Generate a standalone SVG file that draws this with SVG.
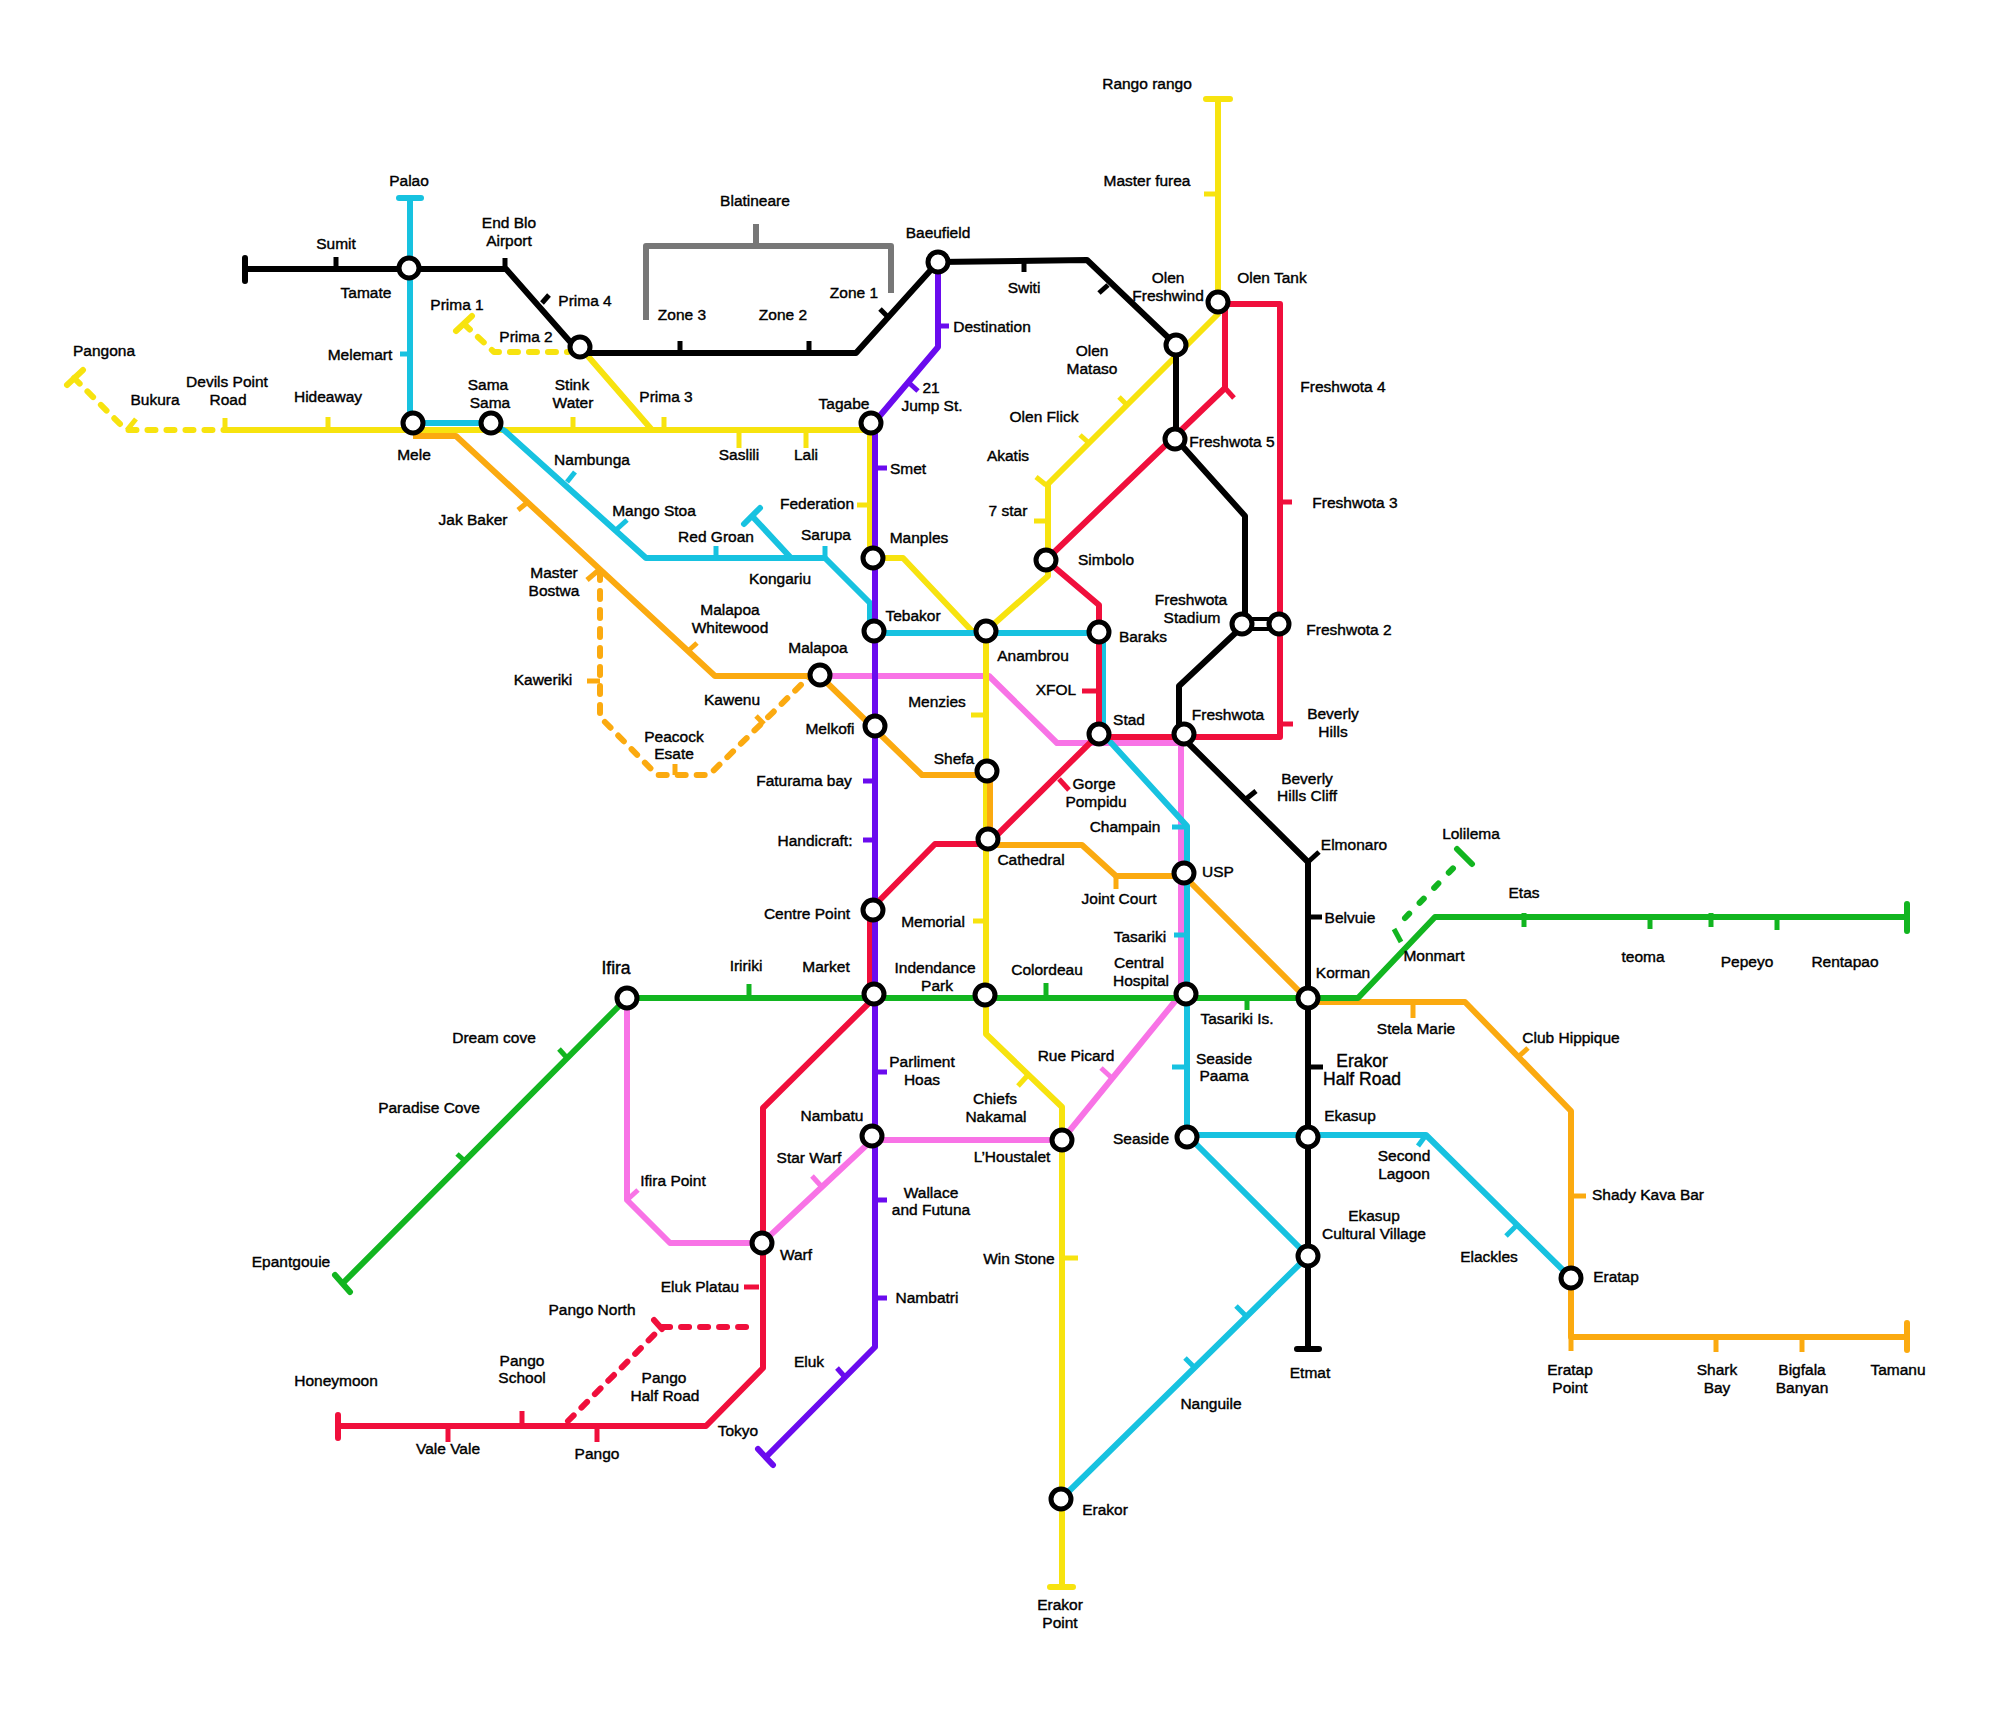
<svg xmlns="http://www.w3.org/2000/svg" width="2008" height="1734" viewBox="0 0 2008 1734">
<style>
text{font-family:"Liberation Sans",Arial,sans-serif;font-size:15.5px;fill:#000;stroke:#000;stroke-width:.4;text-anchor:middle}
.b2{font-size:17.5px}
path{fill:none;stroke-linejoin:round}
.l{stroke-width:6}
.d{stroke-width:6;stroke-dasharray:8 11;stroke-linecap:round}
.dg{stroke-dasharray:6 15}
.t{stroke-width:5}
.e{stroke-width:6;stroke-linecap:round}
.y{stroke:#f7e30f}.c{stroke:#17c2e0}.p{stroke:#6a0bee}.r{stroke:#f00f3c}.g{stroke:#12b520}.o{stroke:#fbaa10}.m{stroke:#f873e6}.k{stroke:#000}.s{stroke:#777}
circle{fill:#fff;stroke:#000;stroke-width:5;r:10px}
</style>
<g id="connectors">
<path class="l s" d="M646 320V246H891V293M756 224V246"/>
<path class="l m" d="M820 676H989L1057 743H1181V994L1062 1140H872L762 1243H670L627 1200V998"/>
<path class="l y" d="M225 430H870V558M580 347L652 430M870 558H903L972 631H986L1048 576V484L1219 313M1218 302V99M986 631V995V1034L1062 1107V1587"/>
<path class="d y" d="M74 378L126 430H225M464 324L494 352H568"/>
<path class="l o" d="M413 436H456L715 676H820L922 775H990V845M990 845H1082L1116 876H1184L1308 1000V1002H1465L1571 1111V1337H1907"/>
<path class="d o" d="M600 572V717L657 775H709L809 677"/>
<path class="l c" d="M410 198V423H491L505 431L646 558H825L870 603V633H1103V734L1187 826V1135H1426L1571 1278M1187 1135L1308 1256L1061 1499M752 516L791 558"/>
<path class="l r" d="M338 1426H706L763 1368V1108L870 1002V910L935 844H988L1099 734V605L1046 560L1225 388V304H1280V737H1099"/>
<path class="d r" d="M568 1421L662 1327H754"/>
<path class="l g" d="M343 1283L627 998H1358L1435 917H1907"/>
<path class="d dg g" d="M1405 918L1463 858"/>
<path class="l p" d="M938 262V347L878 418L875 424V1347L766 1457"/>
<path class="l k" d="M245 269H506L580 353H856L938 262L1087 260L1176 345V439L1245 516V624L1179 686V734L1308 862V1349"/>
<path class="k" stroke-width="4" d="M1242 619H1279M1242 629H1279"/>
</g>
<g id="ends">
<path class="e k" d="M245 258V281M1297 1349H1319"/>
<path class="e c" d="M399 198H421"/>
<path class="e y" d="M1206 99H1230M1050 1587H1073M67 385L83 370M456 331L472 316"/>
<path class="e o" d="M1907 1323V1350"/>
<path class="e g" d="M1907 904V931M335 1275L350 1292M1457 849L1472 864"/>
<path class="g" stroke-width="5" d="M1394 929L1401 942"/>
<path class="e p" d="M758 1449L773 1465"/>
<path class="e r" d="M338 1415V1438M654 1320L662 1329"/>
<path class="e c" d="M744 524L760 508"/>
</g>
<g id="n-palao"><text x="409" y="186">Palao</text></g>
<g id="n-sumit"><path class="t k" d="M336 269V257"/><text x="336" y="249">Sumit</text></g>
<g id="n-endblo"><path class="t k" d="M505 269V258"/><text x="509" y="228">End Blo<tspan x="509" y="246">Airport</tspan></text></g>
<g id="n-tamate"><circle cx="409" cy="268"/><text x="366" y="298">Tamate</text></g>
<g id="n-prima1"><text x="457" y="310">Prima 1</text></g>
<g id="n-prima4"><path class="t k" d="M542 303L549 295"/><text x="585" y="306">Prima 4</text></g>
<g id="n-prima2"><circle cx="580" cy="347"/><text x="526" y="342">Prima 2</text></g>
<g id="n-blatineare"><text x="755" y="206">Blatineare</text></g>
<g id="n-zone3"><path class="t k" d="M680 353V341"/><text x="682" y="320">Zone 3</text></g>
<g id="n-zone2"><path class="t k" d="M809 353V341"/><text x="783" y="320">Zone 2</text></g>
<g id="n-zone1"><path class="t k" d="M880 309L888 317"/><text x="854" y="298">Zone 1</text></g>
<g id="n-baeufield"><circle cx="938" cy="262"/><text x="938" y="238">Baeufield</text></g>
<g id="n-destination"><path class="t p" d="M938 326H949"/><text x="992" y="332">Destination</text></g>
<g id="n-switi"><path class="t k" d="M1024 258V272"/><text x="1024" y="293">Switi</text></g>
<g id="n-olenmid"><path class="t k" d="M1099 293L1108 285"/></g>
<g id="n-rango"><text x="1147" y="89">Rango rango</text></g>
<g id="n-masterfurea"><path class="t y" d="M1204 194H1218"/><text x="1147" y="186">Master furea</text></g>
<g id="n-olentank"><circle cx="1218" cy="302"/><text x="1272" y="283">Olen Tank</text></g>
<g id="n-olenfresh"><circle cx="1176" cy="345"/><text x="1168" y="283">Olen<tspan x="1168" y="301">Freshwind</tspan></text></g>
<g id="n-olenmataso"><path class="t y" d="M1119 397L1128 406"/><text x="1092" y="356">Olen<tspan x="1092" y="374">Mataso</tspan></text></g>
<g id="n-olenflick"><path class="t y" d="M1080 435L1089 443"/><text x="1044" y="422">Olen Flick</text></g>
<g id="n-akatis"><path class="t y" d="M1036 477L1046 485"/><text x="1008" y="461">Akatis</text></g>
<g id="n-7star"><path class="t y" d="M1034 521H1046"/><text x="1008" y="516">7 star</text></g>
<g id="n-freshwota4"><path class="t r" d="M1225 388L1234 398"/><text x="1343" y="392">Freshwota 4</text></g>
<g id="n-freshwota5"><circle cx="1175" cy="439"/><text x="1232" y="447">Freshwota 5</text></g>
<g id="n-freshwota3"><path class="t r" d="M1280 502H1292"/><text x="1355" y="508">Freshwota 3</text></g>
<g id="n-simbolo"><circle cx="1046" cy="560"/><text x="1106" y="565">Simbolo</text></g>
<g id="n-fstadium"><circle cx="1242" cy="624"/><text x="1191" y="605">Freshwota<tspan x="1192" y="623">Stadium</tspan></text></g>
<g id="n-freshwota2"><circle cx="1279" cy="624"/><text x="1349" y="635">Freshwota 2</text></g>
<g id="n-baraks"><circle cx="1099" cy="632"/><text x="1143" y="642">Baraks</text></g>
<g id="n-anambrou"><circle cx="986" cy="631"/><text x="1033" y="661">Anambrou</text></g>
<g id="n-xfol"><path class="t r" d="M1082 691H1097"/><text x="1056" y="695">XFOL</text></g>
<g id="n-menzies"><path class="t y" d="M971 715H984"/><text x="937" y="707">Menzies</text></g>
<g id="n-stad"><circle cx="1099" cy="734"/><text x="1129" y="725">Stad</text></g>
<g id="n-freshwota"><circle cx="1184" cy="734"/><text x="1228" y="720">Freshwota</text></g>
<g id="n-beverly"><path class="t r" d="M1280 724H1293"/><text x="1333" y="719">Beverly<tspan x="1333" y="737">Hills</tspan></text></g>
<g id="n-shefa"><circle cx="987" cy="771"/><text x="954" y="764">Shefa</text></g>
<g id="n-gorge"><path class="t r" d="M1059 779L1069 790"/><text x="1094" y="789">Gorge<tspan x="1096" y="807">Pompidu</tspan></text></g>
<g id="n-bevcliff"><path class="t k" d="M1246 799L1256 791"/><text x="1307" y="784">Beverly<tspan x="1307" y="801">Hills Cliff</tspan></text></g>
<g id="n-champain"><path class="t c" d="M1172 827H1187"/><text x="1125" y="832">Champain</text></g>
<g id="n-elmonaro"><path class="t k" d="M1308 862L1319 852"/><text x="1354" y="850">Elmonaro</text></g>
<g id="n-lolilema"><text x="1471" y="839">Lolilema</text></g>
<g id="n-cathedral"><circle cx="988" cy="839"/><text x="1031" y="865">Cathedral</text></g>
<g id="n-usp"><circle cx="1184" cy="873"/><text x="1218" y="877">USP</text></g>
<g id="n-jointcourt"><path class="t o" d="M1116 876V889"/><text x="1119" y="904">Joint Court</text></g>
<g id="n-etas"><path class="t g" d="M1524 913V927"/><text x="1524" y="898">Etas</text></g>
<g id="n-teoma"><path class="t g" d="M1650 917V929"/><text x="1643" y="962">teoma</text></g>
<g id="n-pepeyo"><path class="t g" d="M1711 913V927"/><text x="1747" y="967">Pepeyo</text></g>
<g id="n-rentapao"><path class="t g" d="M1777 917V930"/><text x="1845" y="967">Rentapao</text></g>
<g id="n-belvuie"><path class="t k" d="M1308 917H1322"/><text x="1350" y="923">Belvuie</text></g>
<g id="n-memorial"><path class="t y" d="M973 921H984"/><text x="933" y="927">Memorial</text></g>
<g id="n-tasariki"><path class="t c" d="M1174 935H1187"/><text x="1140" y="942">Tasariki</text></g>
<g id="n-monmart"><text x="1434" y="961">Monmart</text></g>
<g id="n-indpark"><circle cx="985" cy="995"/><text x="935" y="973">Indendance<tspan x="937" y="991">Park</tspan></text></g>
<g id="n-colordeau"><path class="t g" d="M1046 983V997"/><text x="1047" y="975">Colordeau</text></g>
<g id="n-central"><circle cx="1186" cy="994"/><text x="1139" y="968">Central<tspan x="1141" y="986">Hospital</tspan></text></g>
<g id="n-korman"><circle cx="1308" cy="998"/><text x="1343" y="978">Korman</text></g>
<g id="n-tasarikiis"><path class="t g" d="M1247 997V1010"/><text x="1237" y="1024">Tasariki Is.</text></g>
<g id="n-stela"><path class="t o" d="M1413 1003V1018"/><text x="1416" y="1034">Stela Marie</text></g>
<g id="n-club"><path class="t o" d="M1518 1057L1528 1048"/><text x="1571" y="1043">Club Hippique</text></g>
<g id="n-rue"><path class="t m" d="M1101 1068L1113 1079"/><text x="1076" y="1061">Rue Picard</text></g>
<g id="n-seapaama"><path class="t c" d="M1172 1067H1187"/><text x="1224" y="1064">Seaside<tspan x="1224" y="1081">Paama</tspan></text></g>
<g id="n-parliment"><path class="t p" d="M875 1072H887"/><text x="922" y="1067">Parliment<tspan x="922" y="1085">Hoas</tspan></text></g>
<g id="n-erakorhalf"><path class="t k" d="M1308 1067H1323"/><text class="b2" x="1362" y="1067">Erakor<tspan x="1362" y="1085">Half Road</tspan></text></g>
<g id="n-chiefs"><path class="t y" d="M1018 1086L1028 1075"/><text x="995" y="1104">Chiefs<tspan x="996" y="1122">Nakamal</tspan></text></g>
<g id="n-nambatu"><circle cx="872" cy="1136"/><text x="832" y="1121">Nambatu</text></g>
<g id="n-seaside"><circle cx="1187" cy="1137"/><text x="1141" y="1144">Seaside</text></g>
<g id="n-ekasup"><circle cx="1308" cy="1137"/><text x="1350" y="1121">Ekasup</text></g>
<g id="n-second"><path class="t c" d="M1418 1146L1426 1135"/><text x="1404" y="1161">Second<tspan x="1404" y="1179">Lagoon</tspan></text></g>
<g id="n-houstalet"><circle cx="1062" cy="1140"/><text x="1012" y="1162">L’Houstalet</text></g>
<g id="n-starwarf"><path class="t m" d="M812 1176L821 1186"/><text x="809" y="1163">Star Warf</text></g>
<g id="n-ifirapt"><path class="t m" d="M627 1200L638 1190"/><text x="673" y="1186">Ifira Point</text></g>
<g id="n-wallace"><path class="t p" d="M875 1200H887"/><text x="931" y="1198">Wallace<tspan x="931" y="1215">and Futuna</tspan></text></g>
<g id="n-shady"><path class="t o" d="M1571 1196H1586"/><text x="1648" y="1200">Shady Kava Bar</text></g>
<g id="n-ekasupcv"><circle cx="1308" cy="1256"/><text x="1374" y="1221">Ekasup<tspan x="1374" y="1239">Cultural Village</tspan></text></g>
<g id="n-winstone"><path class="t y" d="M1062 1258H1078"/><text x="1019" y="1264">Win Stone</text></g>
<g id="n-warf"><circle cx="762" cy="1243"/><text x="796" y="1260">Warf</text></g>
<g id="n-elackles"><path class="t c" d="M1506 1236L1516 1226"/><text x="1489" y="1262">Elackles</text></g>
<g id="n-eratap"><circle cx="1571" cy="1278"/><text x="1616" y="1282">Eratap</text></g>
<g id="n-epant"><text x="291" y="1267">Epantgouie</text></g>
<g id="n-elukplatau"><path class="t r" d="M744 1287H759"/><text x="700" y="1292">Eluk Platau</text></g>
<g id="n-nambatri"><path class="t p" d="M875 1298H887"/><text x="927" y="1303">Nambatri</text></g>
<g id="n-pangonorth"><text x="592" y="1315">Pango North</text></g>
<g id="n-eluk"><path class="t p" d="M837 1368L844 1376"/><text x="809" y="1367">Eluk</text></g>
<g id="n-pangoschool"><path class="t r" d="M522 1411V1426"/><text x="522" y="1366">Pango<tspan x="522" y="1383">School</tspan></text></g>
<g id="n-honeymoon"><text x="336" y="1386">Honeymoon</text></g>
<g id="n-pangohalf"><text x="664" y="1383">Pango<tspan x="665" y="1401">Half Road</tspan></text></g>
<g id="n-tokyo"><text x="738" y="1436">Tokyo</text></g>
<g id="n-valevale"><path class="t r" d="M448 1426V1442"/><text x="448" y="1454">Vale Vale</text></g>
<g id="n-pango"><path class="t r" d="M597 1426V1442"/><text x="597" y="1459">Pango</text></g>
<g id="n-etmat"><text x="1310" y="1378">Etmat</text></g>
<g id="n-eratappt"><path class="t o" d="M1571 1337V1351"/><text x="1570" y="1375">Eratap<tspan x="1570" y="1393">Point</tspan></text></g>
<g id="n-shark"><path class="t o" d="M1716 1337V1352"/><text x="1717" y="1375">Shark<tspan x="1717" y="1393">Bay</tspan></text></g>
<g id="n-bigfala"><path class="t o" d="M1802 1337V1352"/><text x="1802" y="1375">Bigfala<tspan x="1802" y="1393">Banyan</tspan></text></g>
<g id="n-tamanu"><text x="1898" y="1375">Tamanu</text></g>
<g id="n-nanguile"><path class="t c" d="M1236 1306L1245 1315M1185 1358L1194 1367"/><text x="1211" y="1409">Nanguile</text></g>
<g id="n-erakor"><circle cx="1061" cy="1499"/><text x="1105" y="1515">Erakor</text></g>
<g id="n-erakorpt"><text x="1060" y="1610">Erakor<tspan x="1060" y="1628">Point</tspan></text></g>
<g id="n-ifira"><circle cx="627" cy="998"/><text class="b2" x="616" y="974">Ifira</text></g>
<g id="n-iririki"><path class="t g" d="M749 984V997"/><text x="746" y="971">Iririki</text></g>
<g id="n-market"><circle cx="874" cy="994"/><text x="826" y="972">Market</text></g>
<g id="n-dream"><path class="t g" d="M559 1049L568 1059"/><text x="494" y="1043">Dream cove</text></g>
<g id="n-paradise"><path class="t g" d="M457 1154L466 1162"/><text x="429" y="1113">Paradise Cove</text></g>
<g id="n-melemart"><path class="t c" d="M400 354H410"/><text x="360" y="360">Melemart</text></g>
<g id="n-pangona"><text x="104" y="356">Pangona</text></g>
<g id="n-devils"><path class="t y" d="M225 430V418"/><text x="227" y="387">Devils Point<tspan x="228" y="405">Road</tspan></text></g>
<g id="n-sama"><circle cx="491" cy="423"/><text x="488" y="390">Sama<tspan x="490" y="408">Sama</tspan></text></g>
<g id="n-stink"><path class="t y" d="M573 430V417"/><text x="572" y="390">Stink<tspan x="573" y="408">Water</tspan></text></g>
<g id="n-bukura"><path class="t y" d="M127 430L136 419"/><text x="155" y="405">Bukura</text></g>
<g id="n-hideaway"><path class="t y" d="M328 430V417"/><text x="328" y="402">Hideaway</text></g>
<g id="n-prima3"><path class="t y" d="M664 430V417"/><text x="666" y="402">Prima 3</text></g>
<g id="n-tagabe"><circle cx="871" cy="423"/><text x="844" y="409">Tagabe</text></g>
<g id="n-21jump"><path class="t p" d="M908 382L918 391"/><text x="931" y="393">21<tspan x="932" y="411">Jump St.</tspan></text></g>
<g id="n-saslili"><path class="t y" d="M739 430V448"/><text x="739" y="460">Saslili</text></g>
<g id="n-lali"><path class="t y" d="M806 430V448"/><text x="806" y="460">Lali</text></g>
<g id="n-mele"><circle cx="413" cy="423"/><text x="414" y="460">Mele</text></g>
<g id="n-nambunga"><path class="t c" d="M567 482L575 472"/><text x="592" y="465">Nambunga</text></g>
<g id="n-smet"><path class="t p" d="M875 468H887"/><text x="908" y="474">Smet</text></g>
<g id="n-federation"><path class="t y" d="M857 505H869"/><text x="817" y="509">Federation</text></g>
<g id="n-mangostoa"><path class="t c" d="M617 529L627 520"/><text x="654" y="516">Mango Stoa</text></g>
<g id="n-jakbaker"><path class="t o" d="M528 502L518 510"/><text x="473" y="525">Jak Baker</text></g>
<g id="n-redgroan"><path class="t c" d="M716 546V558"/><text x="716" y="542">Red Groan</text></g>
<g id="n-sarupa"><path class="t c" d="M825 546V558"/><text x="826" y="540">Sarupa</text></g>
<g id="n-manples"><circle cx="873" cy="558"/><text x="919" y="543">Manples</text></g>
<g id="n-masterbostwa"><path class="t o" d="M587 580L600 569"/><text x="554" y="578">Master<tspan x="554" y="596">Bostwa</tspan></text></g>
<g id="n-kongariu"><text x="780" y="584">Kongariu</text></g>
<g id="n-tebakor"><circle cx="874" cy="631"/><text x="913" y="621">Tebakor</text></g>
<g id="n-whitewood"><path class="t o" d="M687 652L697 643"/><text x="730" y="615">Malapoa<tspan x="730" y="633">Whitewood</tspan></text></g>
<g id="n-malapoa"><circle cx="820" cy="675"/><text x="818" y="653">Malapoa</text></g>
<g id="n-kaweriki"><path class="t o" d="M587 681H600"/><text x="543" y="685">Kaweriki</text></g>
<g id="n-kawenu"><path class="t o" d="M756 716L764 724"/><text x="732" y="705">Kawenu</text></g>
<g id="n-peacock"><path class="t o" d="M675 764V775"/><text x="674" y="742">Peacock<tspan x="674" y="759">Esate</tspan></text></g>
<g id="n-melkofi"><circle cx="875" cy="726"/><text x="830" y="734">Melkofi</text></g>
<g id="n-faturama"><path class="t p" d="M863 781H875"/><text x="804" y="786">Faturama bay</text></g>
<g id="n-handicraft"><path class="t p" d="M863 840H875"/><text x="815" y="846">Handicraft:</text></g>
<g id="n-centre"><circle cx="873" cy="910"/><text x="807" y="919">Centre Point</text></g>
</svg>
